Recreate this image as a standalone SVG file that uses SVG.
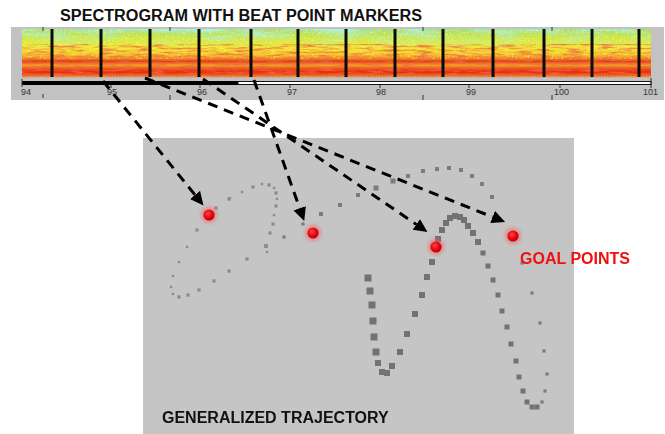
<svg xmlns="http://www.w3.org/2000/svg" xmlns:xlink="http://www.w3.org/1999/xlink" width="665" height="434" viewBox="0 0 665 434">
<style>
.title{font-family:"Liberation Sans",Arial,sans-serif;font-weight:bold;font-size:16px;fill:#111}
.goal{font-family:"Liberation Sans",Arial,sans-serif;font-weight:bold;font-size:16px;fill:#f01010}
.ax{font-family:"Liberation Sans",Arial,sans-serif;font-size:9px;fill:#333}
.beat{fill:#0a0a0a}
.tick{stroke:#333;stroke-width:1}
.conn{fill:none;stroke:#000;stroke-width:3;stroke-dasharray:10 7}
.s{fill:#8c8c8c}
.m{fill:#7c7c7c}
.b{fill:#727272}
</style>
<defs>
<linearGradient id="spec" x1="0" y1="0" x2="0" y2="1">
<stop offset="0" stop-color="#a6de72"/>
<stop offset="0.2" stop-color="#d2e846"/>
<stop offset="0.38" stop-color="#f0e834"/>
<stop offset="0.52" stop-color="#f4cc2c"/>
<stop offset="0.6" stop-color="#f08a22"/>
<stop offset="0.66" stop-color="#e23a18"/>
<stop offset="0.74" stop-color="#f4a428"/>
<stop offset="0.8" stop-color="#ec5a1c"/>
<stop offset="0.88" stop-color="#e42a12"/>
<stop offset="0.95" stop-color="#ef6a1e"/>
<stop offset="1" stop-color="#d6b48c"/>
</linearGradient>
<linearGradient id="topfade" x1="0" y1="0" x2="0" y2="1">
<stop offset="0" stop-color="#fff" stop-opacity="1"/>
<stop offset="0.4" stop-color="#fff" stop-opacity="0"/>
</linearGradient>
<mask id="topmask"><rect x="22" y="29" width="629" height="49" fill="url(#topfade)"/></mask>
<filter id="streaks" x="0" y="0" width="100%" height="100%">
<feTurbulence type="fractalNoise" baseFrequency="0.06 0.5" numOctaves="3" seed="7"/>
<feColorMatrix type="matrix" values="0 0 0 0 0.86  0 0 0 0 0.14  0 0 0 0 0.06  0 0 0 2.8 -1.2"/>
<feComposite in2="SourceGraphic" operator="in"/>
</filter>
<filter id="grain" x="0" y="0" width="100%" height="100%">
<feTurbulence type="fractalNoise" baseFrequency="0.5 0.5" numOctaves="1" seed="11"/>
<feColorMatrix type="matrix" values="0 0 0 0 1  0 0 0 0 0.95  0 0 0 0 0.2  0 0 0 3 -1.5"/>
<feComposite in2="SourceGraphic" operator="in"/>
</filter>
<filter id="patches" x="0" y="0" width="100%" height="100%">
<feTurbulence type="fractalNoise" baseFrequency="0.025 0.15" numOctaves="2" seed="3"/>
<feColorMatrix type="matrix" values="0 0 0 0 0.4  0 0 0 0 0.88  0 0 0 0 0.8  0 0 0 2.6 -0.95"/>
<feComposite in2="SourceGraphic" operator="in"/>
</filter>
<filter id="soft" x="-50%" y="-50%" width="200%" height="200%"><feGaussianBlur stdDeviation="0.45"/></filter>
<filter id="glow" x="-100%" y="-100%" width="300%" height="300%"><feGaussianBlur stdDeviation="1.6"/></filter>
<radialGradient id="red" cx="0.4" cy="0.38" r="0.65">
<stop offset="0" stop-color="#ff4a4a"/>
<stop offset="0.5" stop-color="#ee0a14"/>
<stop offset="1" stop-color="#b00008"/>
</radialGradient>
<marker id="head" markerUnits="userSpaceOnUse" markerWidth="14" markerHeight="14" refX="0" refY="6.5" orient="auto">
<path d="M0,0 L13.5,6.5 L0,13 Z" fill="#000"/>
</marker>
<rect id="q2" x="-1.2" y="-1.2" width="2.4" height="2.4"/>
<rect id="q3" x="-1.6" y="-1.6" width="3.2" height="3.2"/>
<rect id="q4" x="-2" y="-2" width="4" height="4"/>
<rect id="q5" x="-2.5" y="-2.5" width="5" height="5"/>
<rect id="q6" x="-3" y="-3" width="6" height="6"/>
<rect id="q7" x="-3.5" y="-3.5" width="7" height="7"/>
<g id="gdot">
<circle r="8.5" fill="#ff5a5a" opacity="0.45" filter="url(#glow)"/>
<circle r="5.6" fill="url(#red)"/>
</g>
</defs>

<g id="spectrogram">
<rect x="11" y="27" width="653" height="73" fill="#c2c2c2"/>
<rect x="22" y="29" width="629" height="49" fill="url(#spec)"/>
<rect x="22" y="29" width="629" height="49" fill="#fff" mask="url(#topmask)" filter="url(#patches)"/>
<rect x="22" y="29" width="629" height="30" fill="#fff" filter="url(#grain)" opacity="0.7"/>
<rect x="22" y="44" width="629" height="33" fill="#fff" filter="url(#streaks)" opacity="0.85"/>
<line x1="22" y1="77" x2="651" y2="77" stroke="#c8c8c8" stroke-width="1" stroke-dasharray="1 2"/>
<g class="beat">
<rect x="50.5" y="29" width="3" height="48"/>
<rect x="99.5" y="29" width="3" height="48"/>
<rect x="148.5" y="29" width="3" height="48"/>
<rect x="197.5" y="29" width="3" height="48"/>
<rect x="249.5" y="29" width="3" height="48"/>
<rect x="296.5" y="29" width="3" height="48"/>
<rect x="344.5" y="29" width="3" height="48"/>
<rect x="393.5" y="29" width="3" height="48"/>
<rect x="441.5" y="29" width="3" height="48"/>
<rect x="491.5" y="29" width="3" height="48"/>
<rect x="542.5" y="29" width="3" height="48"/>
<rect x="590.5" y="29" width="3" height="48"/>
<rect x="637.5" y="29" width="3" height="48"/>
</g>
<rect x="22" y="81" width="216" height="4" fill="#000"/>
<rect x="238" y="81.5" width="413" height="3" fill="#fff" stroke="#111" stroke-width="1"/>
<line x1="651" y1="78" x2="651" y2="88" class="tick"/>
<line x1="22" y1="79" x2="22" y2="87" class="tick"/>
<g class="tick">
<line x1="111" y1="85" x2="111" y2="88"/>
<line x1="200" y1="85" x2="200" y2="88"/>
<line x1="290" y1="85" x2="290" y2="88"/>
<line x1="380" y1="85" x2="380" y2="88"/>
<line x1="469" y1="85" x2="469" y2="88"/>
<line x1="560" y1="85" x2="560" y2="88"/>
<line x1="43" y1="27" x2="43" y2="31"/>
<line x1="170" y1="27" x2="170" y2="31"/>
<line x1="423" y1="27" x2="423" y2="31"/>
<line x1="552" y1="27" x2="552" y2="31"/>
<line x1="43" y1="94" x2="43" y2="98"/>
<line x1="170" y1="95" x2="170" y2="100"/>
<line x1="423" y1="95" x2="423" y2="100"/>
<line x1="552" y1="95" x2="552" y2="100"/>
</g>
<text class="ax" x="21" y="95">94</text>
<text class="ax" x="107" y="95">95</text>
<text class="ax" x="197" y="95">96</text>
<text class="ax" x="287" y="95">97</text>
<text class="ax" x="376" y="95">98</text>
<text class="ax" x="466" y="95">99</text>
<text class="ax" x="554" y="95">100</text>
<text class="ax" x="643" y="95">101</text>
</g>
<g id="title"><text class="title" x="60" y="21" textLength="362" lengthAdjust="spacingAndGlyphs">SPECTROGRAM WITH BEAT POINT MARKERS</text></g>

<g id="trajectory-panel">
<rect x="143" y="138" width="431" height="296" fill="#c5c5c5"/>
<g filter="url(#soft)">
<g class="s">
<use href="#q3" x="216" y="208"/><use href="#q3" x="229" y="199"/><use href="#q2" x="242" y="192"/><use href="#q3" x="253" y="187"/>
<use href="#q2" x="262" y="184"/><use href="#q3" x="269" y="185"/><use href="#q2" x="274" y="188"/><use href="#q3" x="276" y="193"/>
<use href="#q2" x="277" y="199"/><use href="#q3" x="276" y="206"/><use href="#q2" x="274" y="215"/><use href="#q3" x="273" y="224"/>
<use href="#q3" x="270" y="233"/><use href="#q4" x="266" y="246"/><use href="#q2" x="267" y="252"/><use href="#q3" x="247" y="259"/>
<use href="#q3" x="229" y="271"/><use href="#q3" x="214" y="281"/><use href="#q3" x="199" y="290"/><use href="#q3" x="188" y="295"/>
<use href="#q3" x="179" y="297"/><use href="#q2" x="173" y="294"/><use href="#q2" x="171" y="287"/><use href="#q2" x="173" y="276"/>
<use href="#q2" x="179" y="262"/><use href="#q2" x="187" y="247"/><use href="#q3" x="197" y="230"/><use href="#q2" x="230" y="198"/>
</g>
<g class="m">
<use href="#q3" x="284" y="237"/><use href="#q3" x="303" y="224"/><use href="#q4" x="321" y="214"/><use href="#q4" x="340" y="205"/>
<use href="#q4" x="358" y="195"/><use href="#q5" x="376" y="188"/><use href="#q5" x="393" y="181"/><use href="#q4" x="408" y="176"/>
<use href="#q4" x="423" y="171"/><use href="#q4" x="437" y="169"/><use href="#q4" x="449" y="168"/><use href="#q4" x="461" y="170"/>
<use href="#q4" x="472" y="176"/><use href="#q4" x="482" y="184"/><use href="#q4" x="492" y="197"/>
<use href="#q3" x="522" y="263"/><use href="#q3" x="532" y="293"/><use href="#q3" x="540" y="323"/><use href="#q3" x="544" y="351"/>
<use href="#q3" x="547" y="374"/><use href="#q3" x="545" y="391"/><use href="#q3" x="542" y="402"/>
</g>
<g class="b">
<use href="#q7" x="368" y="278"/><use href="#q7" x="370" y="291"/><use href="#q7" x="372" y="305"/><use href="#q7" x="373" y="321"/>
<use href="#q7" x="374" y="337"/><use href="#q7" x="376" y="352"/><use href="#q6" x="378" y="363"/><use href="#q6" x="382" y="372"/>
<use href="#q6" x="387" y="373"/><use href="#q6" x="392" y="366"/><use href="#q6" x="400" y="352"/><use href="#q6" x="407" y="334"/>
<use href="#q6" x="415" y="314"/><use href="#q6" x="422" y="295"/><use href="#q6" x="427" y="277"/><use href="#q6" x="432" y="262"/>
<use href="#q6" x="438" y="239"/><use href="#q6" x="442" y="230"/><use href="#q6" x="446" y="223"/><use href="#q6" x="450" y="218"/>
<use href="#q6" x="455" y="216"/><use href="#q6" x="460" y="217"/><use href="#q6" x="464" y="220"/><use href="#q6" x="468" y="226"/>
<use href="#q6" x="473" y="233"/><use href="#q6" x="478" y="242"/><use href="#q5" x="483" y="253"/><use href="#q5" x="488" y="266"/>
<use href="#q5" x="493" y="280"/><use href="#q5" x="498" y="295"/><use href="#q5" x="502" y="311"/><use href="#q5" x="507" y="327"/>
<use href="#q5" x="511" y="344"/><use href="#q5" x="516" y="361"/><use href="#q5" x="519" y="377"/><use href="#q5" x="523" y="391"/>
<use href="#q5" x="527" y="402"/><use href="#q5" x="532" y="407"/><use href="#q5" x="537" y="407"/>
</g>
</g>
</g>
<g id="trajectory-label"><text class="title" x="162" y="423">GENERALIZED TRAJECTORY</text></g>

<g id="goal-1"><use href="#gdot" x="209" y="215"/></g>
<g id="goal-2"><use href="#gdot" x="313" y="233"/></g>
<g id="goal-3"><use href="#gdot" x="436" y="247"/></g>
<g id="goal-4"><use href="#gdot" x="513" y="236"/></g>
<g id="goal-label"><text class="goal" x="520" y="264">GOAL POINTS</text></g>

<g id="connectors">
<path class="conn" d="M103,81 L195,194.9" marker-end="url(#head)"/>
<path class="conn" d="M254,80 L299.7,208.3" marker-end="url(#head)"/>
<path class="conn" d="M203,79 L416.3,224.4" marker-end="url(#head)"/>
<path class="conn" d="M145,78 L492.6,217" marker-end="url(#head)"/>
</g>
</svg>
